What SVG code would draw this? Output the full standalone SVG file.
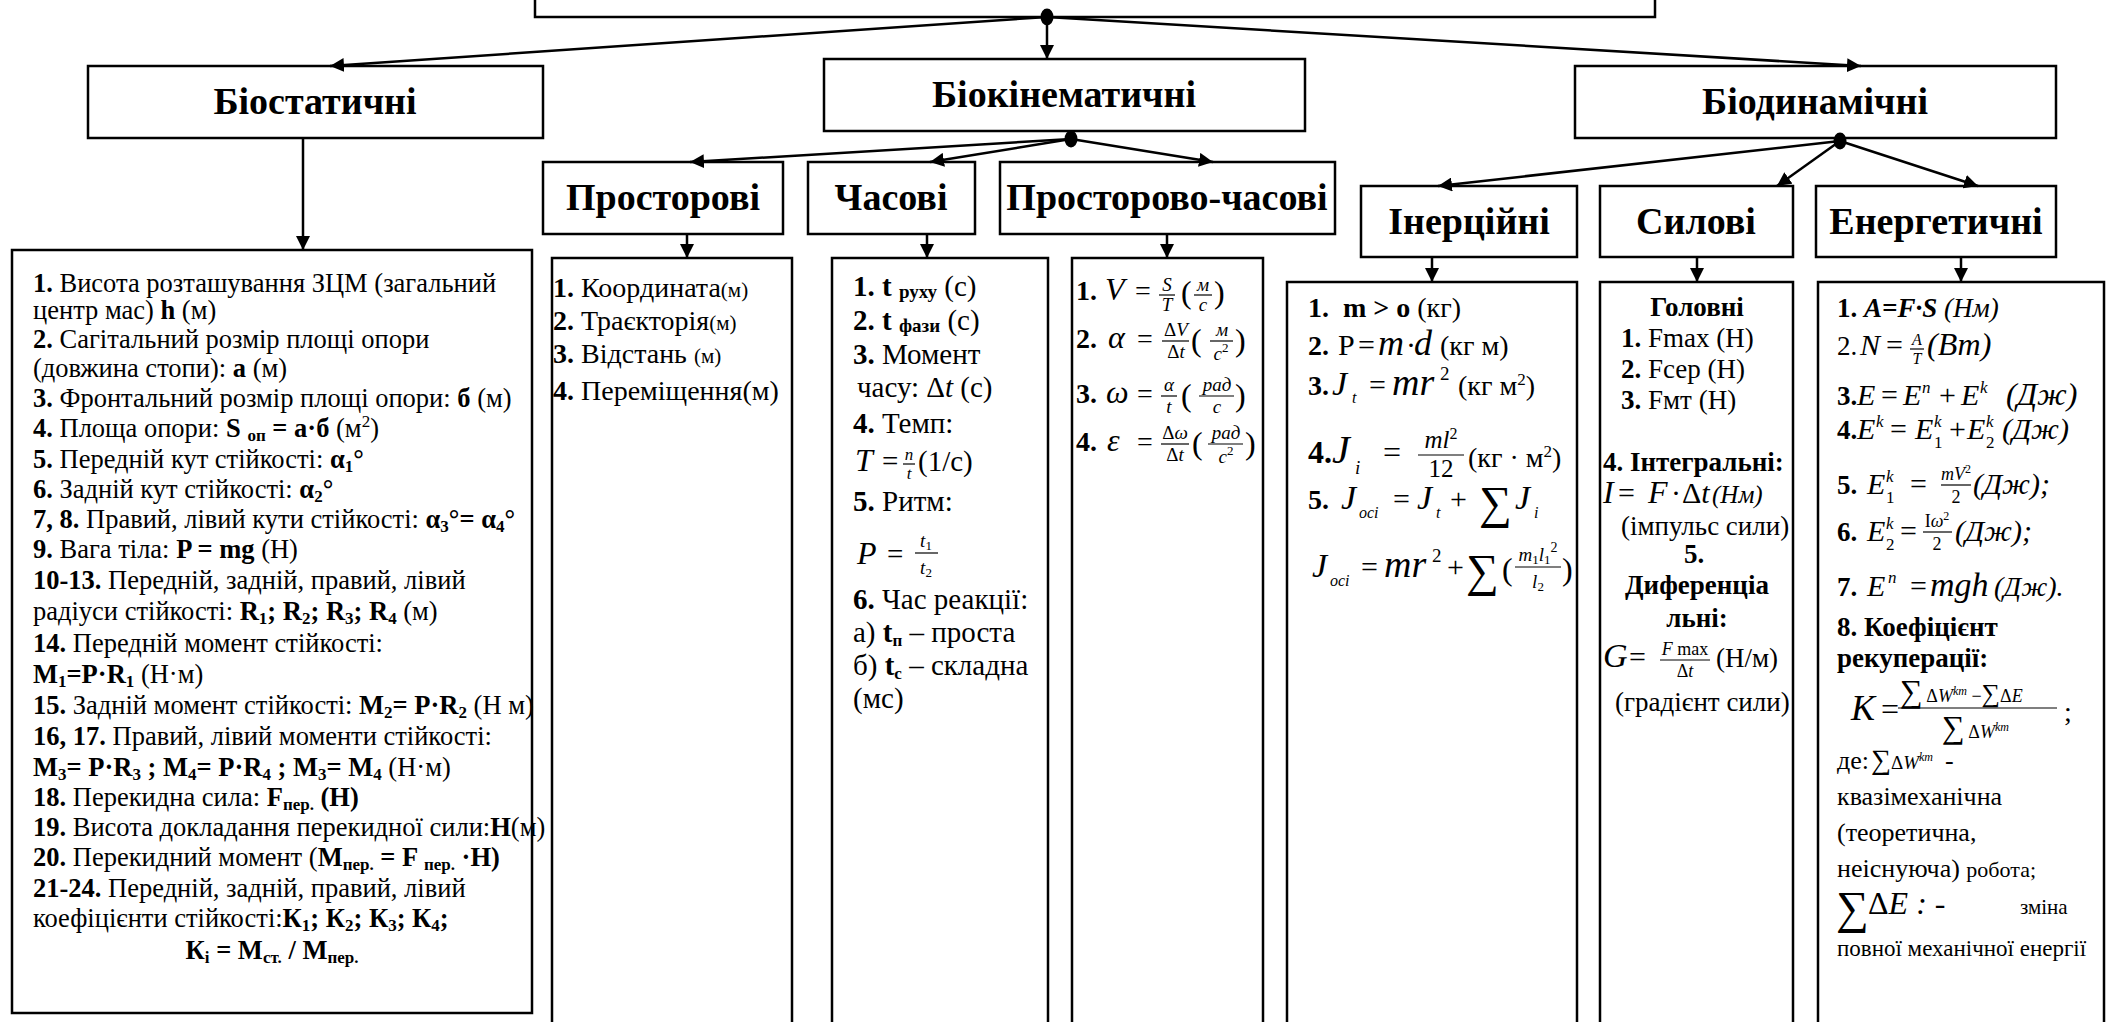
<svg xmlns="http://www.w3.org/2000/svg" width="2111" height="1022" viewBox="0 0 2111 1022">
<defs>
<marker id="ah" viewBox="0 0 14 14" refX="14" refY="7" markerWidth="14" markerHeight="14" markerUnits="userSpaceOnUse" orient="auto"><path d="M0,0 L14,7 L0,14 z" fill="#000"/></marker>
<style>
.bx{fill:#fff;stroke:#000;stroke-width:2.5}
.ln{stroke:#000;stroke-width:2.5;fill:none}
.bar{stroke:#000;stroke-width:1.2}
text{font-family:"Liberation Serif","Times New Roman",serif;fill:#000}
.h{font-size:38px;font-weight:bold;text-anchor:middle}
.s{font-size:26.5px}
.m{font-size:28px}
.k{font-size:29px}
.e{font-size:27px}
.b{font-weight:bold}
.i{font-style:italic}
.c{text-anchor:middle}
.sb{font-size:17px;baseline-shift:-4px}
.sp{font-size:17px;baseline-shift:10px}
.sm{font-size:21px}
.f17{font-size:17px}
.f19{font-size:19px}
.f30{font-size:30px}
.f32{font-size:32px}
.f34{font-size:34px}
</style>
</defs>
<rect x="0" y="0" width="2111" height="1022" fill="#fff"/>

<g id="root"><rect class="bx" x="535" y="-10" width="1120" height="27"/></g>

<g id="biostatic"><rect class="bx" x="88" y="66" width="455" height="72"/><text class="h" x="315" y="114">Біостатичні</text></g>
<g id="biokinematic"><rect class="bx" x="824" y="59" width="481" height="72"/><text class="h" x="1064" y="107">Біокінематичні</text></g>
<g id="biodynamic"><rect class="bx" x="1575" y="66" width="481" height="72"/><text class="h" x="1815" y="114">Біодинамічні</text></g>
<g id="spatial"><rect class="bx" x="543" y="162" width="240" height="72"/><text class="h" x="663" y="210">Просторові</text></g>
<g id="temporal"><rect class="bx" x="808" y="162" width="167" height="72"/><text class="h" x="891" y="210">Часові</text></g>
<g id="spatiotemporal"><rect class="bx" x="1000" y="162" width="335" height="72"/><text class="h" x="1167" y="210">Просторово-часові</text></g>
<g id="inertial"><rect class="bx" x="1361" y="186" width="216" height="71"/><text class="h" x="1469" y="234">Інерційні</text></g>
<g id="force"><rect class="bx" x="1600" y="186" width="193" height="71"/><text class="h" x="1696" y="234">Силові</text></g>
<g id="energy"><rect class="bx" x="1816" y="186" width="240" height="71"/><text class="h" x="1936" y="234">Енергетичні</text></g>

<g id="biostatic-list">
<rect class="bx" x="12" y="250" width="520" height="763"/>
<text class="s" x="33" y="292"><tspan class="b">1.</tspan> Висота розташування ЗЦМ (загальний</text>
<text class="s" x="33" y="319">центр мас) <tspan class="b">h</tspan> (м)</text>
<text class="s" x="33" y="348"><tspan class="b">2.</tspan> Сагітальний розмір площі опори</text>
<text class="s" x="33" y="377">(довжина стопи): <tspan class="b">а</tspan> (м)</text>
<text class="s" x="33" y="407"><tspan class="b">3.</tspan> Фронтальний розмір площі опори: <tspan class="b">б</tspan> (м)</text>
<text class="s" x="33" y="437"><tspan class="b">4.</tspan> Площа опори: <tspan class="b">S <tspan class="sb">оп</tspan> = а·б</tspan> (м<tspan class="sp">2</tspan>)</text>
<text class="s" x="33" y="468"><tspan class="b">5.</tspan> Передній кут стійкості: <tspan class="b">α<tspan class="sb">1</tspan>°</tspan></text>
<text class="s" x="33" y="498"><tspan class="b">6.</tspan> Задній кут стійкості: <tspan class="b">α<tspan class="sb">2</tspan>°</tspan></text>
<text class="s" x="33" y="528"><tspan class="b">7, 8.</tspan> Правий, лівий кути стійкості: <tspan class="b">α<tspan class="sb">3</tspan>°= α<tspan class="sb">4</tspan>°</tspan></text>
<text class="s" x="33" y="558"><tspan class="b">9.</tspan> Вага тіла: <tspan class="b">P = mg</tspan> (Н)</text>
<text class="s" x="33" y="589"><tspan class="b">10-13.</tspan> Передній, задній, правий, лівий</text>
<text class="s" x="33" y="620">радіуси стійкості: <tspan class="b">R<tspan class="sb">1</tspan>; R<tspan class="sb">2</tspan>; R<tspan class="sb">3</tspan>; R<tspan class="sb">4</tspan></tspan> (м)</text>
<text class="s" x="33" y="652"><tspan class="b">14.</tspan> Передній момент стійкості:</text>
<text class="s" x="33" y="683"><tspan class="b">M<tspan class="sb">1</tspan>=P·R<tspan class="sb">1</tspan></tspan> (Н·м)</text>
<text class="s" x="33" y="714"><tspan class="b">15.</tspan> Задній момент стійкості: <tspan class="b">M<tspan class="sb">2</tspan>= P·R<tspan class="sb">2</tspan></tspan> (Н м)</text>
<text class="s" x="33" y="745"><tspan class="b">16, 17.</tspan> Правий, лівий моменти стійкості:</text>
<text class="s" x="33" y="776"><tspan class="b">M<tspan class="sb">3</tspan>= P·R<tspan class="sb">3</tspan> ; M<tspan class="sb">4</tspan>= P·R<tspan class="sb">4</tspan> ; M<tspan class="sb">3</tspan>= M<tspan class="sb">4</tspan></tspan> (Н·м)</text>
<text class="s" x="33" y="806"><tspan class="b">18.</tspan> Перекидна сила: <tspan class="b">F<tspan class="sb">пер.</tspan> (Н)</tspan></text>
<text class="s" x="33" y="836"><tspan class="b">19.</tspan> Висота докладання перекидної сили:<tspan class="b">Н</tspan>(м)</text>
<text class="s" x="33" y="866"><tspan class="b">20.</tspan> Перекидний момент (<tspan class="b">M<tspan class="sb">пер.</tspan> = F <tspan class="sb">пер.</tspan> ·Н)</tspan></text>
<text class="s" x="33" y="897"><tspan class="b">21-24.</tspan> Передній, задній, правий, лівий</text>
<text class="s" x="33" y="927">коефіцієнти стійкості:<tspan class="b">К<tspan class="sb">1</tspan>; К<tspan class="sb">2</tspan>; К<tspan class="sb">3</tspan>; К<tspan class="sb">4</tspan>;</tspan></text>
<text class="s b c" x="272" y="959">К<tspan class="sb">і</tspan> = М<tspan class="sb">ст.</tspan> / М<tspan class="sb">пер.</tspan></text>
</g>

<g id="spatial-list">
<rect class="bx" x="552" y="258" width="240" height="780"/>
<text class="m" x="553" y="297"><tspan class="b">1.</tspan> Координата<tspan class="sm">(м)</tspan></text>
<text class="m" x="553" y="330"><tspan class="b">2.</tspan> Траєкторія<tspan class="sm">(м)</tspan></text>
<text class="m" x="553" y="363"><tspan class="b">3.</tspan> Відстань <tspan class="sm">(м)</tspan></text>
<text class="m" x="553" y="400"><tspan class="b">4.</tspan>  Переміщення(м)</text>
</g>

<g id="temporal-list">
<rect class="bx" x="832" y="258" width="216" height="780"/>
<text class="k" x="853" y="296"><tspan class="b">1. t </tspan><tspan class="b" font-size="19" baseline-shift="-2">руху</tspan> (с)</text>
<text class="k" x="853" y="330"><tspan class="b">2. t </tspan><tspan class="b" font-size="19" baseline-shift="-2">фази</tspan> (с)</text>
<text class="k" x="853" y="364"><tspan class="b">3.</tspan> Момент</text>
<text class="k" x="857" y="397">часу:  Δ<tspan class="i">t</tspan>  (с)</text>
<text class="k" x="853" y="433"><tspan class="b">4.</tspan> Темп:</text>
<text class="i f32" x="855" y="471">T</text><text class="k" x="882" y="471">=</text>
<text class="i f17 c" x="909" y="460">n</text><line class="bar" x1="903" y1="464" x2="915" y2="464"/><text class="i f17 c" x="909" y="479">t</text>
<text class="k" x="918" y="471">(1/с)</text>
<text class="k" x="853" y="511"><tspan class="b">5.</tspan> Ритм:</text>
<text class="i f32" x="857" y="564">P</text><text class="k" x="887" y="564">=</text>
<text class="i f19 c" x="926" y="547">t<tspan font-size="13" font-style="normal" baseline-shift="-3">1</tspan></text>
<line class="bar" x1="915" y1="553" x2="938" y2="553"/>
<text class="i f19 c" x="926" y="574">t<tspan font-size="13" font-style="normal" baseline-shift="-3">2</tspan></text>
<text class="k" x="853" y="609"><tspan class="b">6.</tspan> Час реакції:</text>
<text class="k" x="853" y="642">а) <tspan class="b">t<tspan class="sb">п</tspan></tspan> – проста</text>
<text class="k" x="853" y="675">б) <tspan class="b">t<tspan class="sb">с</tspan></tspan> – складна</text>
<text class="k" x="853" y="708">(мс)</text>
</g>

<g id="spatiotemporal-list">
<rect class="bx" x="1072" y="258" width="191" height="780"/>
<text class="m b" x="1076" y="300">1.</text>
<text class="i f32" x="1105" y="300">V</text><text class="m" x="1135" y="300">=</text>
<text class="i f19 c" x="1167" y="291">S</text><line class="bar" x1="1159" y1="295" x2="1175" y2="295"/><text class="i f19 c" x="1167" y="311">T</text>
<text class="f32" x="1181" y="303">(</text>
<text class="i f19 c" x="1203" y="291">м</text><line class="bar" x1="1194" y1="295" x2="1212" y2="295"/><text class="i f19 c" x="1203" y="311">с</text>
<text class="f32" x="1214" y="303">)</text>

<text class="m b" x="1076" y="348">2.</text>
<text class="i f32" x="1108" y="348">α</text><text class="m" x="1137" y="348">=</text>
<text class="f19 c" x="1176" y="336">Δ<tspan class="i">V</tspan></text><line class="bar" x1="1162" y1="341" x2="1189" y2="341"/><text class="f19 c" x="1176" y="358">Δ<tspan class="i">t</tspan></text>
<text class="f32" x="1191" y="351">(</text>
<text class="i f19 c" x="1222" y="336">м</text><line class="bar" x1="1210" y1="341" x2="1233" y2="341"/><text class="i f19 c" x="1221" y="360">с<tspan font-size="13" font-style="normal" baseline-shift="8">2</tspan></text>
<text class="f32" x="1235" y="351">)</text>

<text class="m b" x="1076" y="403">3.</text>
<text class="i f32" x="1106" y="403">ω</text><text class="m" x="1137" y="403">=</text>
<text class="i f19 c" x="1169" y="391">α</text><line class="bar" x1="1161" y1="396" x2="1177" y2="396"/><text class="i f19 c" x="1169" y="413">t</text>
<text class="f32" x="1181" y="406">(</text>
<text class="i f19 c" x="1217" y="391">рад</text><line class="bar" x1="1199" y1="396" x2="1234" y2="396"/><text class="i f19 c" x="1217" y="413">с</text>
<text class="f32" x="1235" y="406">)</text>

<text class="m b" x="1076" y="451">4.</text>
<text class="i f32" x="1107" y="451">ε</text><text class="m" x="1137" y="451">=</text>
<text class="f19 c" x="1175" y="439">Δ<tspan class="i">ω</tspan></text><line class="bar" x1="1161" y1="444" x2="1189" y2="444"/><text class="f19 c" x="1175" y="461">Δ<tspan class="i">t</tspan></text>
<text class="f32" x="1192" y="454">(</text>
<text class="i f19 c" x="1226" y="439">рад</text><line class="bar" x1="1208" y1="444" x2="1243" y2="444"/><text class="i f19 c" x="1226" y="463">с<tspan font-size="13" font-style="normal" baseline-shift="8">2</tspan></text>
<text class="f32" x="1245" y="454">)</text>
</g>

<g id="inertial-list">
<rect class="bx" x="1287" y="282" width="290" height="760"/>
<text class="m" x="1308" y="317"><tspan class="b">1.</tspan><tspan class="b" x="1343">m &gt; o</tspan> (кг)</text>
<text class="m b" x="1308" y="355">2.</text>
<text class="f30" x="1338" y="355">P</text><text class="f30" x="1358" y="355">=</text>
<text class="i" font-size="36" x="1378" y="355">m</text><text class="f30" x="1406" y="355">·</text><text class="i" font-size="36" x="1414" y="355">d</text>
<text class="m" x="1440" y="355">(кг м)</text>
<text class="m b" x="1308" y="395">3.</text>
<text class="i f34" x="1332" y="395">J</text><text class="i" font-size="16" x="1352" y="403">t</text>
<text class="f30" x="1369" y="395">=</text>
<text class="i" font-size="38" x="1392" y="395">mr</text><text font-size="19" x="1440" y="380">2</text>
<text class="m" x="1458" y="395">(кг м<tspan class="sp">2</tspan>)</text>
<text class="b f32" x="1308" y="463">4.</text>
<text class="i" font-size="40" x="1332" y="463">J</text><text class="i" font-size="19" x="1355" y="474">i</text>
<text class="f32" x="1383" y="463">=</text>
<text class="i c" font-size="25" x="1441" y="448">ml<tspan font-size="16" font-style="normal" baseline-shift="9">2</tspan></text>
<line class="bar" x1="1418" y1="455" x2="1464" y2="455"/>
<text class="c" font-size="25" x="1441" y="477">12</text>
<text class="m" x="1468" y="467">(кг · м<tspan class="sp">2</tspan>)</text>
<text class="m b" x="1308" y="509">5.</text>
<text class="i f34" x="1341" y="509">J</text><text class="i" font-size="16" x="1359" y="518">осі</text>
<text class="f30" x="1393" y="509">=</text>
<text class="i f34" x="1417" y="509">J</text><text class="i" font-size="16" x="1436" y="518">t</text>
<text class="f30" x="1450" y="509">+</text>
<text font-size="46" x="1479" y="518">∑</text>
<text class="i f34" x="1515" y="509">J</text><text class="i" font-size="16" x="1534" y="518">i</text>
<text class="i f34" x="1312" y="577">J</text><text class="i" font-size="16" x="1330" y="586">осі</text>
<text class="f30" x="1361" y="577">=</text>
<text class="i" font-size="38" x="1384" y="577">mr</text><text font-size="19" x="1432" y="562">2</text>
<text class="f30" x="1447" y="577">+</text>
<text font-size="46" x="1466" y="586">∑</text>
<text class="f32" x="1502" y="580">(</text>
<text class="i c" font-size="19" x="1538" y="561">m<tspan font-size="13" font-style="normal" baseline-shift="-3">1</tspan>l<tspan font-size="13" font-style="normal" baseline-shift="-3">1</tspan><tspan font-size="14" font-style="normal" baseline-shift="9">2</tspan></text>
<line class="bar" x1="1515" y1="567" x2="1561" y2="567"/>
<text class="i c" font-size="19" x="1538" y="588">l<tspan font-size="13" font-style="normal" baseline-shift="-3">2</tspan></text>
<text class="f32" x="1562" y="580">)</text>
</g>

<g id="force-list">
<rect class="bx" x="1600" y="282" width="193" height="760"/>
<text class="e b c" x="1697" y="316">Головні</text>
<text class="e" x="1621" y="347"><tspan class="b">1.</tspan> Fmax (Н)</text>
<text class="e" x="1621" y="378"><tspan class="b">2.</tspan> Fсер (Н)</text>
<text class="e" x="1621" y="409"><tspan class="b">3.</tspan> Fмт (Н)</text>
<text class="e b" x="1603" y="471">4. Інтегральні:</text>
<text class="i f32" x="1603" y="503">I</text><text class="f30" x="1618" y="503">=</text>
<text class="i f32" x="1648" y="503">F</text><text class="f30" x="1671" y="503">·</text>
<text class="f30" x="1682" y="503">Δ<tspan class="i">t</tspan></text>
<text class="i" font-size="25" x="1712" y="503">(Нм)</text>
<text class="e" x="1621" y="535">(імпульс сили)</text>
<text class="e b c" x="1694" y="563">5.</text>
<text class="e b" x="1625" y="594">Диференціа</text>
<text class="e b c" x="1697" y="627">льні:</text>
<text class="i f34" x="1603" y="667">G</text><text class="f30" x="1629" y="667">=</text>
<text class="c" font-size="18" x="1685" y="655"><tspan class="i">F</tspan> max</text>
<line class="bar" x1="1660" y1="660" x2="1710" y2="660"/>
<text class="c" font-size="18" x="1685" y="677">Δ<tspan class="i">t</tspan></text>
<text class="e" x="1716" y="667">(Н/м)</text>
<text class="e" x="1615" y="711">(градієнт сили)</text>
</g>

<g id="energy-list">
<rect class="bx" x="1818" y="282" width="286" height="760"/>
<text class="e" x="1837" y="317"><tspan class="b">1. </tspan><tspan class="b i">A=F·S</tspan><tspan class="i"> (Нм)</tspan></text>
<text class="e" x="1837" y="355">2.</text>
<text class="i f30" x="1860" y="355">N</text><text class="f30" x="1886" y="355">=</text>
<text class="i c" font-size="16" x="1917" y="345">A</text><line class="bar" x1="1910" y1="349" x2="1924" y2="349"/><text class="i c" font-size="16" x="1917" y="364">T</text>
<text class="i f32" x="1927" y="355">(Вт)</text>

<text class="e b" x="1837" y="405">3.</text>
<text class="i f30" x="1857" y="405">E</text><text class="f30" x="1881" y="405">=</text>
<text class="i f30" x="1903" y="405">E</text><text class="i f17" x="1922" y="393">n</text>
<text class="f30" x="1939" y="405">+</text>
<text class="i f30" x="1961" y="405">E</text><text class="i f17" x="1980" y="393">k</text>
<text class="i f32" x="2006" y="405">(Дж)</text>

<text class="e b" x="1837" y="439">4.</text>
<text class="i f30" x="1857" y="439">E</text><text class="i f17" x="1876" y="427">k</text>
<text class="f30" x="1890" y="439">=</text>
<text class="i f30" x="1915" y="439">E</text><text class="i f17" x="1934" y="427">k</text><text class="f17" x="1934" y="448">1</text>
<text class="f30" x="1949" y="439">+</text>
<text class="i f30" x="1967" y="439">E</text><text class="i f17" x="1986" y="427">k</text><text class="f17" x="1986" y="448">2</text>
<text class="i f30" x="2002" y="439">(Дж)</text>

<text class="e b" x="1837" y="494">5.</text>
<text class="i f30" x="1867" y="494">E</text><text class="i f17" x="1886" y="482">k</text><text class="f17" x="1886" y="503">1</text>
<text class="f30" x="1910" y="494">=</text>
<text class="i c" font-size="18" x="1956" y="480">mV<tspan font-size="12" font-style="normal" baseline-shift="7">2</tspan></text>
<line class="bar" x1="1941" y1="485" x2="1971" y2="485"/>
<text class="c" font-size="18" x="1956" y="503">2</text>
<text class="i f30" x="1973" y="494">(Дж);</text>

<text class="e b" x="1837" y="541">6.</text>
<text class="i f30" x="1867" y="541">E</text><text class="i f17" x="1886" y="529">k</text><text class="f17" x="1886" y="550">2</text>
<text class="f30" x="1900" y="541">=</text>
<text class="c" font-size="18" x="1937" y="527">I<tspan class="i">ω</tspan><tspan font-size="12" baseline-shift="7">2</tspan></text>
<line class="bar" x1="1923" y1="532" x2="1952" y2="532"/>
<text class="c" font-size="18" x="1937" y="550">2</text>
<text class="i f30" x="1955" y="541">(Дж);</text>

<text class="e b" x="1837" y="596">7.</text>
<text class="i f30" x="1867" y="596">E</text><text class="i f17" x="1888" y="583">n</text>
<text class="f30" x="1910" y="596">=</text>
<text class="i f34" x="1930" y="596">mgh</text>
<text class="i" font-size="28" x="1994" y="596">(Дж).</text>

<text class="e b" x="1837" y="636">8. Коефіцієнт</text>
<text class="e b" x="1837" y="667">рекуперації:</text>
<text class="i" font-size="36" x="1851" y="720">K</text><text class="f32" x="1881" y="720">=</text>
<text font-size="18" x="1900" y="702"><tspan font-size="32">∑</tspan> Δ<tspan class="i">W</tspan><tspan class="i" font-size="12" baseline-shift="7">km</tspan> −<tspan font-size="26">∑</tspan>Δ<tspan class="i">E</tspan></text>
<line class="bar" x1="1898" y1="708" x2="2057" y2="708"/>
<text font-size="18" x="1942" y="738"><tspan font-size="32">∑</tspan> Δ<tspan class="i">W</tspan><tspan class="i" font-size="12" baseline-shift="7">km</tspan></text>
<text class="m" x="2064" y="721">;</text>
<text font-size="26" x="1837" y="769">де:<tspan font-size="28" dx="2">∑</tspan><tspan font-size="19">Δ</tspan><tspan class="i" font-size="19">W</tspan><tspan class="i" font-size="12" baseline-shift="8">km</tspan><tspan dx="12">-</tspan></text>
<text font-size="26" x="1837" y="805">квазімеханічна</text>
<text font-size="26" x="1837" y="841">(теоретична,</text>
<text font-size="26" x="1837" y="877">неіснуюча) <tspan font-size="22">робота;</tspan></text>
<text font-size="46" x="1836" y="923">∑</text>
<text class="f32" x="1868" y="914">Δ<tspan class="i">E</tspan> <tspan class="i">:</tspan> -</text>
<text font-size="21" x="2020" y="914">зміна</text>
<text font-size="23" x="1837" y="956">повної механічної енергії</text>
</g>

<g id="connectors">
<line class="ln" x1="1047" y1="17" x2="330" y2="66" marker-end="url(#ah)"/>
<line class="ln" x1="1047" y1="17" x2="1047" y2="59" marker-end="url(#ah)"/>
<line class="ln" x1="1047" y1="17" x2="1861" y2="66" marker-end="url(#ah)"/>
<line class="ln" x1="1071" y1="139" x2="690" y2="162" marker-end="url(#ah)"/>
<line class="ln" x1="1071" y1="139" x2="930" y2="162" marker-end="url(#ah)"/>
<line class="ln" x1="1071" y1="139" x2="1213" y2="162" marker-end="url(#ah)"/>
<line class="ln" x1="1840" y1="141" x2="1438" y2="186" marker-end="url(#ah)"/>
<line class="ln" x1="1840" y1="141" x2="1777" y2="186" marker-end="url(#ah)"/>
<line class="ln" x1="1840" y1="141" x2="1978" y2="186" marker-end="url(#ah)"/>
<line class="ln" x1="303" y1="138" x2="303" y2="250" marker-end="url(#ah)"/>
<line class="ln" x1="687" y1="234" x2="687" y2="258" marker-end="url(#ah)"/>
<line class="ln" x1="927" y1="234" x2="927" y2="258" marker-end="url(#ah)"/>
<line class="ln" x1="1167" y1="234" x2="1167" y2="258" marker-end="url(#ah)"/>
<line class="ln" x1="1432" y1="257" x2="1432" y2="282" marker-end="url(#ah)"/>
<line class="ln" x1="1697" y1="257" x2="1697" y2="282" marker-end="url(#ah)"/>
<line class="ln" x1="1961" y1="257" x2="1961" y2="282" marker-end="url(#ah)"/>
<ellipse cx="1047" cy="17" rx="6.5" ry="8.5" fill="#000"/>
<ellipse cx="1071" cy="139" rx="6.5" ry="8.5" fill="#000"/>
<ellipse cx="1840" cy="141" rx="6.5" ry="8.5" fill="#000"/>
</g>
</svg>
